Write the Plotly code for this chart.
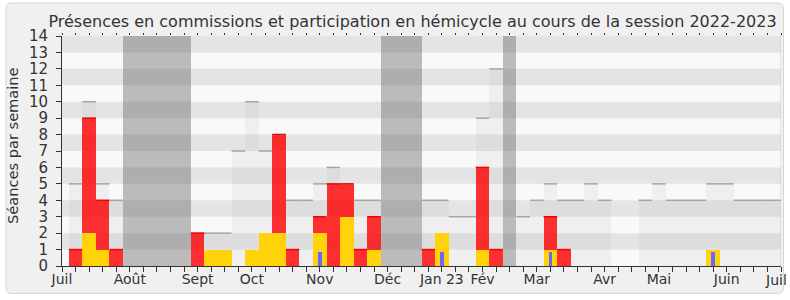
import plotly.graph_objects as go

# ---------------- data (week index 0..53) ----------------
weeks = list(range(0, 54))
presence_commission = [0, 1, 9, 4, 1, 0, 0, 0, 0, 0,
                       2, 1, 1, 0, 1, 2, 8, 1, 0, 3,
                       5, 5, 1, 3, 0, 0, 0, 1, 2, 0,
                       0, 6, 1, 0, 0, 0, 3, 1, 0, 0,
                       0, 0, 0, 0, 0, 0, 0, 0, 1, 0,
                       0, 0, 0, 0]
interventions_commission = [0, 0, 2, 1, 0, 0, 0, 0, 0, 0,
                            0, 1, 1, 0, 1, 2, 2, 0, 0, 2,
                            0, 3, 0, 1, 0, 0, 0, 0, 2, 0,
                            0, 1, 0, 0, 0, 0, 1, 0, 0, 0,
                            0, 0, 0, 0, 0, 0, 0, 0, 1, 0,
                            0, 0, 0, 0]
interventions_hemicycle = [0, 0, 0, 0, 0, 0, 0, 0, 0, 0,
                           0, 0, 0, 0, 0, 0, 0, 0, 0, 0.86,
                           0, 0, 0, 0, 0, 0, 0, 0, 0.86, 0,
                           0, 0, 0, 0, 0, 0, 0.86, 0, 0, 0,
                           0, 0, 0, 0, 0, 0, 0, 0, 0.86, 0,
                           0, 0, 0, 0]
seances_hemicycle = [0, 5, 10, 5, 4, 0, 0, 0, 0, 0,
                     2, 2, 2, 7, 10, 7, 8, 4, 4, 5,
                     6, 5, 4, 4, 0, 0, 0, 4, 4, 3,
                     3, 9, 12, 0, 3, 4, 5, 4, 4, 5,
                     4, 0, 0, 4, 5, 4, 4, 4, 5, 5,
                     4, 4, 4, 4]
vacances = [5, 6, 7, 8, 9, 24, 25, 26, 33]
vacances_height = 14
month_ticks = [0, 5, 10, 14, 19, 24, 28, 31, 35, 40, 44, 49, 53]
month_labels = ["Juil", "Août", "Sept", "Oct", "Nov", "Déc", "Jan 23", "Fév",
                "Mar", "Avr", "Mai", "Juin", "Juil"]
y_ticks = list(range(0, 15))

title = "Présences en commissions et participation en hémicycle au cours de la session 2022-2023"
ytitle = "Séances par semaine"

# ---------------- geometry ----------------
W, H = 790, 300
ML, MR, MT, MB = 62, 9, 36, 34
PW, PH = W - ML - MR, H - MT - MB
FONT = "DejaVu Sans"
TXT = "#333333"


def px_to_paper(px, py):
    return (px - ML) / PW, (H - MB - py) / PH


def seg(xs, vals, mask=None):
    X, Y = [], []
    for i, (k, v) in enumerate(zip(xs, vals)):
        if v <= 0 or (mask is not None and not mask[i]):
            continue
        X += [k - 0.5, k + 0.5, None]
        Y += [v, v, None]
    return X, Y


fig = go.Figure()

# hemicycle columns
fig.add_trace(go.Bar(x=weeks, y=seances_hemicycle, width=1,
                     marker=dict(color="rgba(190,190,190,0.17)", line=dict(width=0)),
                     hoverinfo="skip"))
hx, hy = seg(weeks, seances_hemicycle)
fig.add_trace(go.Scatter(x=hx, y=hy, mode="lines",
                         line=dict(color="#A5A5A5", width=1.5), hoverinfo="skip"))
# presence commission (red)
fig.add_trace(go.Bar(x=weeks, y=presence_commission, width=1,
                     marker=dict(color="rgba(255,0,0,0.8)", line=dict(width=0)),
                     hoverinfo="skip"))
rmask = [r > y for r, y in zip(presence_commission, interventions_commission)]
rx, ry = seg(weeks, presence_commission, rmask)
fig.add_trace(go.Scatter(x=rx, y=ry, mode="lines",
                         line=dict(color="rgb(245,0,0)", width=1.5), hoverinfo="skip"))
# interventions commission (yellow)
fig.add_trace(go.Bar(x=weeks, y=interventions_commission, width=1,
                     marker=dict(color="rgb(255,210,10)", line=dict(width=0)),
                     hoverinfo="skip"))
# interventions hemicycle (blue)
fig.add_trace(go.Bar(x=weeks, y=interventions_hemicycle, width=0.27,
                     marker=dict(color="rgb(104,104,255)", line=dict(width=0)),
                     hoverinfo="skip"))
# vacances
fig.add_trace(go.Bar(x=vacances, y=[vacances_height] * len(vacances), width=1,
                     marker=dict(color="rgba(86,86,86,0.38)", line=dict(width=0)),
                     hoverinfo="skip"))
# dummy trace for top tick axis
fig.add_trace(go.Scatter(x=[None], y=[None], xaxis="x2", showlegend=False, hoverinfo="skip"))

shapes = []
# panel
x0, y0 = 6, 3
x1, y1 = 783.5, 293.5
r = 6


def P(a, b):
    u, v = px_to_paper(a, b)
    return f"{u:.5f},{v:.5f}"


path = (f"M {P(x0 + r, y0)} L {P(x1 - r, y0)} Q {P(x1, y0)} {P(x1, y0 + r)} "
        f"L {P(x1, y1 - r)} Q {P(x1, y1)} {P(x1 - r, y1)} "
        f"L {P(x0 + r, y1)} Q {P(x0, y1)} {P(x0, y1 - r)} "
        f"L {P(x0, y0 + r)} Q {P(x0, y0)} {P(x0 + r, y0)} Z")
shapes.append(dict(type="path", path=path, xref="paper", yref="paper",
                   fillcolor="#F0F0F0", line=dict(color="#D6D6D6", width=1), layer="below"))
# stripes
shapes.append(dict(type="rect", xref="x", yref="y", x0=0, x1=53, y0=0, y1=14,
                   fillcolor="#F9F9F9", line=dict(width=0), layer="below"))
for i in range(1, 14, 2):
    shapes.append(dict(type="rect", xref="x", yref="y", x0=0, x1=53, y0=i, y1=i + 1,
                       fillcolor="#E4E4E4", line=dict(width=0), layer="below"))
shapes.append(dict(type="line", xref="x", yref="y", x0=53, x1=53, y0=0, y1=14,
                   line=dict(color="#D0D0D0", width=1), layer="below"))

# last month label sits at the right edge of the chart; keep it inside the page
annotations = [dict(text=ytitle, xref="paper", yref="paper", x=px_to_paper(12, 146)[0],
                    y=px_to_paper(12, 146)[1], xanchor="center", yanchor="middle",
                    textangle=-90, showarrow=False,
                    font=dict(family=FONT, size=14.6, color=TXT)),
               dict(text=month_labels[-1], xref="paper", yref="paper",
                    x=px_to_paper(789, 0)[0], y=px_to_paper(0, 270)[1],
                    xanchor="right", yanchor="top",
                    showarrow=False, font=dict(family=FONT, size=14, color=TXT))]

fig.update_layout(
    width=W, height=H,
    margin=dict(l=ML, r=MR, t=MT, b=MB, pad=0, autoexpand=False),
    paper_bgcolor="white", plot_bgcolor="rgba(0,0,0,0)",
    barmode="overlay", bargap=0, showlegend=False,
    font=dict(family=FONT, color=TXT),
    title=dict(text=title, font=dict(family=FONT, size=16, color=TXT),
               x=412.5 / W, xref="container", xanchor="center",
               y=1 - 21 / H, yref="container", yanchor="middle"),
    shapes=shapes,
    annotations=annotations,
    xaxis=dict(range=[0, 53], tickmode="array", tickvals=month_ticks[:-1],
               ticktext=month_labels[:-1],
               ticks="outside", ticklen=5, tickcolor=TXT, tickwidth=1,
               minor=dict(tickmode="array", tickvals=weeks, ticks="outside", ticklen=5,
                          tickcolor=TXT, tickwidth=1, showgrid=False),
               showline=True, linecolor=TXT, linewidth=1, showgrid=False, zeroline=False,
               tickfont=dict(family=FONT, size=14, color=TXT), ticklabelstandoff=-5,
               automargin=False, fixedrange=True),
    xaxis2=dict(range=[0, 53], overlaying="x", side="top", anchor="y",
                tickmode="array", tickvals=weeks, ticks="outside", ticklen=2,
                tickcolor=TXT, tickwidth=1, showticklabels=False, showline=False,
                showgrid=False, zeroline=False, automargin=False, fixedrange=True),
    yaxis=dict(range=[0, 14], tickmode="array", tickvals=y_ticks,
               ticks="outside", ticklen=5, tickcolor=TXT, tickwidth=1,
               showline=True, linecolor=TXT, linewidth=1, showgrid=False, zeroline=False,
               tickfont=dict(family=FONT, size=15, color=TXT), ticklabelstandoff=5,
               automargin=False, fixedrange=True),
)

fig.write_html("out.html")
